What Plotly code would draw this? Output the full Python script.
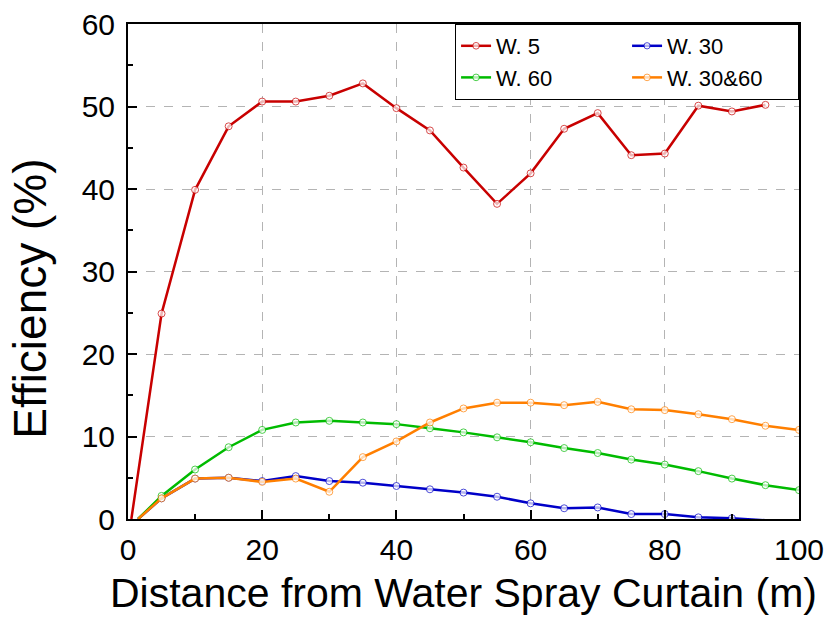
import plotly.graph_objects as go

x_w5 = [0.5, 5, 10, 15, 20, 25, 30, 35, 40, 45, 50, 55, 60, 65, 70, 75, 80, 85, 90, 95]
y_w5 = [0, 24.9, 39.9, 47.6, 50.6, 50.6, 51.3, 52.8, 49.8, 47.1, 42.6, 38.2, 41.9, 47.3, 49.2, 44.1, 44.3, 50.1, 49.4, 50.2]

x_w30 = [1.5, 5, 10, 15, 20, 25, 30, 35, 40, 45, 50, 55, 60, 65, 70, 75, 80, 85, 90, 95]
y_w30 = [0, 2.5, 4.9, 5.0, 4.6, 5.2, 4.6, 4.4, 4.0, 3.6, 3.2, 2.7, 1.9, 1.3, 1.4, 0.6, 0.6, 0.2, 0.1, -0.15]

x_w60 = [1.5, 5, 10, 15, 20, 25, 30, 35, 40, 45, 50, 55, 60, 65, 70, 75, 80, 85, 90, 95, 100]
y_w60 = [0, 2.8, 6.0, 8.7, 10.8, 11.7, 11.9, 11.7, 11.5, 11.0, 10.5, 9.9, 9.3, 8.6, 8.0, 7.2, 6.6, 5.8, 4.9, 4.1, 3.5]

x_w3060 = [1.5, 5, 10, 15, 20, 25, 30, 35, 40, 45, 50, 55, 60, 65, 70, 75, 80, 85, 90, 95, 100]
y_w3060 = [0, 2.5, 4.9, 5.0, 4.5, 4.9, 3.3, 7.5, 9.4, 11.7, 13.4, 14.1, 14.1, 13.8, 14.2, 13.3, 13.2, 12.7, 12.1, 11.3, 10.8]

series = [
    ("W. 5", x_w5, y_w5, "#C80000"),
    ("W. 30", x_w30, y_w30, "#0000C8"),
    ("W. 60", x_w60, y_w60, "#00BB00"),
    ("W. 30&60", x_w3060, y_w3060, "#FF7F00"),
]

FONT = "Liberation Sans, Arial, sans-serif"

fig = go.Figure()
for name, xs, ys, col in series:
    sizes = [0] + [7] * (len(xs) - 1)
    if ys[-1] < 0:
        sizes[-1] = 0
    fig.add_trace(go.Scatter(
        x=xs, y=ys, name=name, mode="lines+markers",
        line=dict(color=col, width=2.5),
        marker=dict(symbol="circle", size=sizes, color="white",
                    line=dict(color=col, width=1)),
    ))

axis_common = dict(
    showline=True, linecolor="black", linewidth=2, mirror=True,
    ticks="inside", ticklen=9, tickwidth=1.5, tickcolor="black",
    showgrid=True, gridcolor="#b4b4b4", griddash="dash", gridwidth=1,
    zeroline=False,
    tickfont=dict(family=FONT, size=30, color="black"),
)

fig.update_xaxes(
    range=[0, 100], dtick=20, tick0=0, ticklabelstandoff=3,
    minor=dict(dtick=10, ticklen=5, ticks="inside", tickcolor="black", showgrid=False),
    title=dict(text="Distance from Water Spray Curtain (m)",
               font=dict(family=FONT, size=41, color="black"), standoff=13),
    **axis_common,
)
fig.update_yaxes(
    range=[0, 60], dtick=10, tick0=0, ticklabelstandoff=5,
    minor=dict(dtick=5, ticklen=5, ticks="inside", tickcolor="black", showgrid=False),
    **axis_common,
)

fig.add_annotation(
    text="Efficiency (%)", textangle=-90, showarrow=False,
    xref="paper", yref="paper", x=-0.146, y=0.445,
    xanchor="center", yanchor="middle",
    font=dict(family=FONT, size=46, color="black"),
)

fig.update_layout(
    width=830, height=623,
    margin=dict(l=128, r=31, t=24, b=104, autoexpand=False),
    plot_bgcolor="white", paper_bgcolor="white",
    legend=dict(
        orientation="h", x=1.0001, xanchor="right", y=1, yanchor="top",
        entrywidth=126, entrywidthmode="pixels",
        bordercolor="black", borderwidth=1, bgcolor="white",
        font=dict(family=FONT, size=22, color="black"),
        tracegroupgap=0,
    ),
    showlegend=True,
)

fig.write_html("out.html")
